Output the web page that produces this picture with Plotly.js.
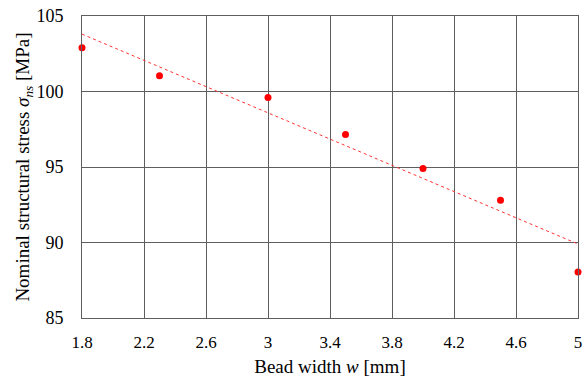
<!DOCTYPE html>
<html>
<head>
<meta charset="utf-8">
<script src="https://cdn.plot.ly/plotly-3.0.1.min.js"></script>
<style>html,body{margin:0;padding:0;background:#fff;}#chart{width:584px;height:380px;}</style>
</head>
<body>
<div id="chart"></div>
<script>
const beadWidth = [1.8, 2.3, 3.0, 3.5, 4.0, 4.5, 5.0];
const stress = [102.9, 101.05, 99.6, 97.15, 94.9, 92.8, 88.05];
const trendX = [1.8, 5.0];
const trendY = [103.8, 89.9];
const xTicks = [1.8, 2.2, 2.6, 3.0, 3.4, 3.8, 4.2, 4.6, 5.0];
const xTickText = ['1.8', '2.2', '2.6', '3', '3.4', '3.8', '4.2', '4.6', '5'];
const yTicks = [85, 90, 95, 100, 105];

const gridColor = '#5e5e5e';
const fontFam = '"Liberation Serif", "Times New Roman", serif';

const data = [
  {x: trendX, y: trendY, mode: 'lines', type: 'scatter',
   line: {color: '#ff3333', width: 1, dash: 'dot'}, hoverinfo: 'skip', showlegend: false},
  {x: beadWidth, y: stress, mode: 'markers', type: 'scatter',
   marker: {color: '#ff0000', size: 7}, showlegend: false, cliponaxis: false}
];

const layout = {
  width: 584, height: 380,
  margin: {l: 82, r: 6, t: 16, b: 62},
  paper_bgcolor: '#ffffff', plot_bgcolor: '#ffffff',
  font: {family: fontFam, size: 17, color: '#000'},
  showlegend: false,
  xaxis: {
    range: [1.8, 5.0], tickvals: xTicks, ticktext: xTickText,
    showgrid: true, gridcolor: gridColor, gridwidth: 1,
    showline: true, linecolor: gridColor, linewidth: 1, mirror: true,
    zeroline: false, ticks: '', ticklabelstandoff: 9,
    tickfont: {family: fontFam, size: 17, color: '#000'},
    title: {text: 'Bead width <i>w</i> [mm]', font: {family: fontFam, size: 19, color: '#000'}, standoff: 8}
  },
  yaxis: {
    range: [85, 105], tickvals: yTicks,
    showgrid: true, gridcolor: gridColor, gridwidth: 1,
    showline: true, linecolor: gridColor, linewidth: 1, mirror: true,
    zeroline: false, ticks: '', ticklabelstandoff: 14,
    tickfont: {family: fontFam, size: 18, color: '#000'},
    title: {text: 'Nominal structural stress <i>σ<sub>ns</sub></i> [MPa]', font: {family: fontFam, size: 19, color: '#000'}, standoff: 0}
  }
};

Plotly.newPlot('chart', data, layout, {displayModeBar: false, staticPlot: true});
</script>
</body>
</html>
